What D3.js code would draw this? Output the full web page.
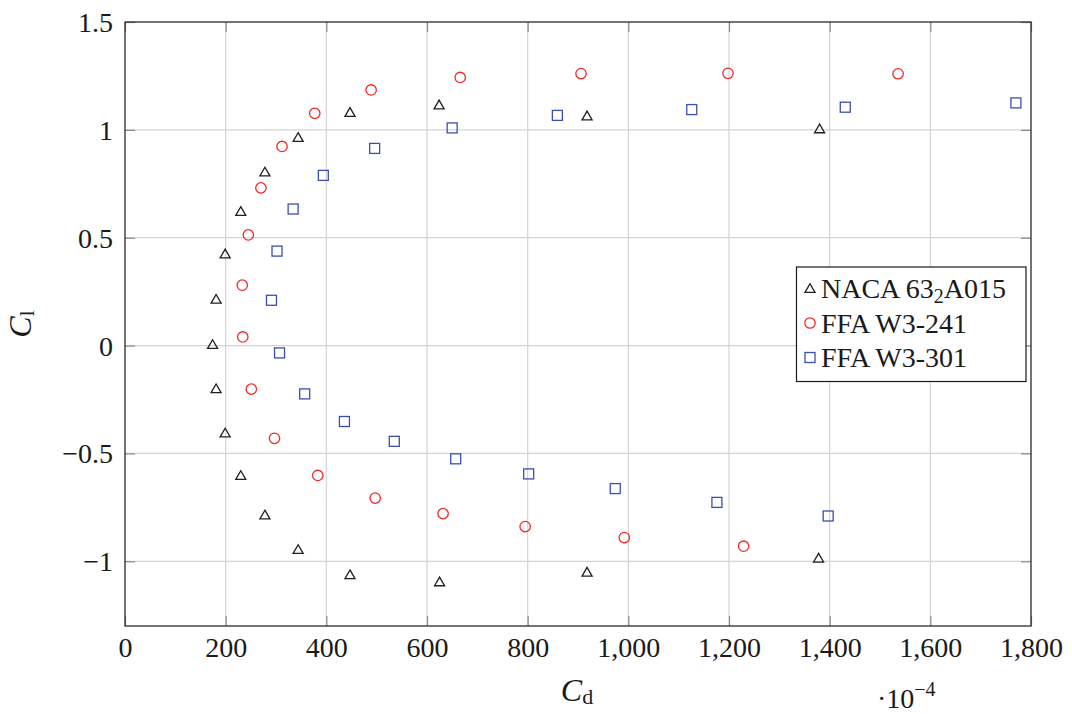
<!DOCTYPE html>
<html>
<head>
<meta charset="utf-8">
<script src="https://cdn.jsdelivr.net/npm/d3@7/dist/d3.min.js"></script>
<style>
  html, body { margin: 0; padding: 0; background: #fff; }
  svg { display: block; font-family: "Liberation Serif", "DejaVu Serif", serif; }
</style>
</head>
<body>
<svg id="chart" width="1072" height="714"></svg>
<script>
// ---- data (Cd in 1e-4, Cl) ----
const nacaCd = [1378, 918, 625, 447, 344, 278, 230, 199, 181, 174, 181, 199, 230, 278, 344, 447, 624, 918, 1380];
const nacaCl = [-0.99, -1.055, -1.10, -1.067, -0.95, -0.79, -0.607, -0.41, -0.205, 0.0, 0.21, 0.42, 0.617, 0.80, 0.96, 1.076, 1.111, 1.06, 1.0];

const ffa241Cd = [1229, 992, 795, 632, 497, 383, 297, 251, 234, 233, 245, 270, 312, 377, 489, 666, 906, 1198, 1536];
const ffa241Cl = [-0.93, -0.89, -0.839, -0.779, -0.707, -0.602, -0.43, -0.202, 0.04, 0.28, 0.513, 0.731, 0.923, 1.077, 1.185, 1.243, 1.261, 1.262, 1.26];

const ffa301Cd = [1397, 1176, 974, 802, 657, 535, 436, 357, 307, 291, 302, 334, 394, 496, 650, 859, 1126, 1431, 1770];
const ffa301Cl = [-0.79, -0.727, -0.663, -0.595, -0.525, -0.444, -0.352, -0.224, -0.034, 0.21, 0.438, 0.633, 0.789, 0.914, 1.009, 1.067, 1.094, 1.105, 1.125];

const xTicks = [0, 200, 400, 600, 800, 1000, 1200, 1400, 1600, 1800];
const yTicks = [-1, -0.5, 0, 0.5, 1, 1.5];
const seriesNames = ["NACA 63", "FFA W3-241", "FFA W3-301"];

// ---- layout ----
const svg = d3.select("#chart");
const L = 125, R = 1031, T = 22, B = 626;
const x = d3.scaleLinear().domain([0, 1800]).range([L, R]);
const y = d3.scaleLinear().domain([-1.3, 1.5]).range([B, T]);

const gridColor = "#d4d4d4";
const tickColor = "#8a8a8a";
const fontSize = 28;
const textColor = "#1a1a1a";

// grid
svg.append("g").selectAll("line").data(xTicks.filter(d => d > 0 && d < 1800)).join("line")
  .attr("x1", d => x(d)).attr("x2", d => x(d)).attr("y1", T).attr("y2", B)
  .attr("stroke", gridColor).attr("stroke-width", 1.2);
svg.append("g").selectAll("line").data(yTicks.filter(d => d < 1.5)).join("line")
  .attr("x1", L).attr("x2", R).attr("y1", d => y(d)).attr("y2", d => y(d))
  .attr("stroke", gridColor).attr("stroke-width", 1.2);

const fmtY = d => (d < 0 ? "\u2212" : "") + d3.format("")(Math.abs(d));

// axes (inward ticks)
const gx = svg.append("g").attr("transform", `translate(0,${B})`)
  .call(d3.axisBottom(x).tickValues(xTicks).tickFormat(d3.format(",")).tickSizeInner(-10).tickSizeOuter(0));
const gxTop = svg.append("g").attr("transform", `translate(0,${T})`)
  .call(d3.axisTop(x).tickValues(xTicks).tickFormat("").tickSizeInner(-10).tickSizeOuter(0));
const gy = svg.append("g").attr("transform", `translate(${L},0)`)
  .call(d3.axisLeft(y).tickValues(yTicks).tickFormat(fmtY).tickSizeInner(-10).tickSizeOuter(0));
const gyR = svg.append("g").attr("transform", `translate(${R},0)`)
  .call(d3.axisRight(y).tickValues(yTicks).tickFormat("").tickSizeInner(-10).tickSizeOuter(0));

[gx, gxTop, gy, gyR].forEach(g => {
  g.select(".domain").remove();
  g.selectAll(".tick line").attr("stroke", tickColor).attr("stroke-width", 1.2);
  g.selectAll(".tick text").attr("fill", textColor).attr("font-size", fontSize)
    .attr("font-family", '"Liberation Serif", serif');
});
gx.selectAll(".tick text").attr("dy", "0.71em").attr("y", 11);
gy.selectAll(".tick text").attr("dy", "0.34em").attr("x", -12);

// frame
svg.append("rect").attr("x", L).attr("y", T).attr("width", R - L).attr("height", B - T)
  .attr("fill", "none").attr("stroke", "#2a2a2a").attr("stroke-width", 1.3);

// markers
const triR = 5.8;
const triPath = `M0,${-triR} L${0.866 * triR},${0.5 * triR} L${-0.866 * triR},${0.5 * triR} Z`;
const colNaca = "#1f1f1f", colRed = "#ee2a2a", colBlue = "#3b4fae";

function drawTri(g, cx, cy) {
  g.append("path").attr("d", triPath).attr("transform", `translate(${cx},${cy})`)
    .attr("fill", "none").attr("stroke", colNaca).attr("stroke-width", 1.3);
}
function drawCirc(g, cx, cy) {
  g.append("circle").attr("cx", cx).attr("cy", cy).attr("r", 5.2)
    .attr("fill", "none").attr("stroke", colRed).attr("stroke-width", 1.3);
}
function drawSq(g, cx, cy) {
  g.append("rect").attr("x", cx - 5).attr("y", cy - 5).attr("width", 10).attr("height", 10)
    .attr("fill", "none").attr("stroke", colBlue).attr("stroke-width", 1.3);
}

const gm = svg.append("g");
nacaCd.forEach((d, i) => drawTri(gm, x(d), y(nacaCl[i])));
ffa241Cd.forEach((d, i) => drawCirc(gm, x(d), y(ffa241Cl[i])));
ffa301Cd.forEach((d, i) => drawSq(gm, x(d), y(ffa301Cl[i])));

// axis labels
const xl = svg.append("text").attr("x", 577).attr("y", 701).attr("text-anchor", "middle")
  .attr("font-size", 32).attr("fill", textColor);
xl.append("tspan").attr("font-style", "italic").text("C");
xl.append("tspan").attr("font-size", 22).attr("dy", 3).text("d");

const ex = svg.append("text").attr("x", 877).attr("y", 708).attr("font-size", 28).attr("fill", textColor);
ex.append("tspan").text("\u00b710");
ex.append("tspan").attr("font-size", 20).attr("dy", -12).text("\u22124");

const yl = svg.append("text").attr("transform", "translate(31,324) rotate(-90)").attr("text-anchor", "middle")
  .attr("font-size", 32).attr("fill", textColor);
yl.append("tspan").attr("font-style", "italic").text("C");
yl.append("tspan").attr("font-size", 22).attr("dy", 3).text("l");

// legend
const lg = svg.append("g");
lg.append("rect").attr("x", 796.5).attr("y", 267).attr("width", 229.5).attr("height", 114.5)
  .attr("fill", "#fff").attr("stroke", "#1a1a1a").attr("stroke-width", 1.2);
const rows = [288.5, 323, 357.5];
drawTri(lg, 810, rows[0] + 1);
drawCirc(lg, 810, rows[1]);
drawSq(lg, 810, rows[2]);
const t0 = lg.append("text").attr("x", 821).attr("y", rows[0] + 9.5).attr("font-size", fontSize).attr("fill", textColor);
t0.append("tspan").text(seriesNames[0]);
t0.append("tspan").attr("font-size", 20).attr("dy", 5).text("2");
t0.append("tspan").attr("dy", -5).text("A015");
lg.append("text").attr("x", 821).attr("y", rows[1] + 9.5).attr("font-size", fontSize).attr("fill", textColor).text(seriesNames[1]);
lg.append("text").attr("x", 821).attr("y", rows[2] + 9.5).attr("font-size", fontSize).attr("fill", textColor).text(seriesNames[2]);
</script>
</body>
</html>
